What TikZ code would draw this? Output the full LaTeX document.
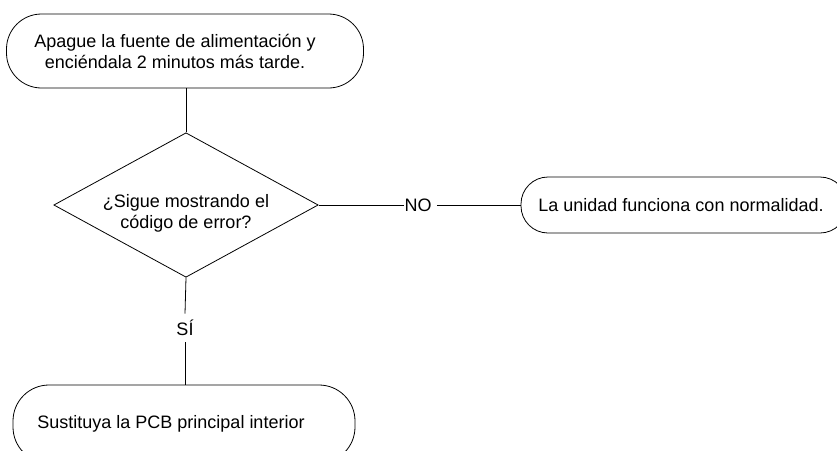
\documentclass[tikz,border=0pt]{standalone}
\usepackage{fontspec}
\setmainfont{Liberation Sans}
\usetikzlibrary{shapes.geometric, positioning}

\begin{document}
\begin{tikzpicture}[x=1pt, y=-1pt, line width=0.8pt,
    txt/.style={font=\fontsize{18}{21}\selectfont},
    term/.style={txt, draw, rectangle, rounded corners=#1, align=center, inner sep=0pt},
    decision/.style={txt, draw, diamond, aspect=1.83, align=center, inner sep=0pt},
    lbl/.style={txt, inner sep=0pt}]
    % 画像の範囲 (837 x 450)
    \useasboundingbox (0,0) rectangle (837,450);

    % -------------------------------------------------------------
    % 端子（角丸の箱）: 文字は少し左寄せ
    % -------------------------------------------------------------
    \node[term=35pt, minimum width=357pt, minimum height=74pt] (apagar) at (185,51)
        {Apague la fuente de alimentación y\hspace*{20pt}\\enciéndala 2 minutos más tarde.\hspace*{20pt}};
    \node[term=27pt, minimum width=326pt, minimum height=56pt] (normal) at (684,205)
        {La unidad funciona con normalidad.\hspace*{6pt}};
    \node[term=36pt, minimum width=342pt, minimum height=78pt] (pcb) at (184,424)
        {Sustituya la PCB principal interior\hspace*{26pt}};

    % 判断（ひし形）: 文字は少し下寄せ
    \node[decision, minimum width=264pt, minimum height=144pt] (error) at (186,205)
        {\rule{0pt}{29pt}¿Sigue mostrando el\\código de error?};

    % 分岐ラベル
    \node[lbl, inner xsep=0pt] (no) at (418,205) {NO};
    \node[lbl, inner ysep=6pt] (si) at (185,328) {SÍ};

    % -------------------------------------------------------------
    % 接続線
    % -------------------------------------------------------------
    \draw (apagar.south -| error.north) -- (error.north);
    \draw (error.east) -- (no.west);
    \draw ([xshift=5pt]no.east) -- (normal.west);
    \draw (error.south) -- (si.north);
    \draw (si.south) -- (pcb.north -| si.south);

\end{tikzpicture}
\end{document}
